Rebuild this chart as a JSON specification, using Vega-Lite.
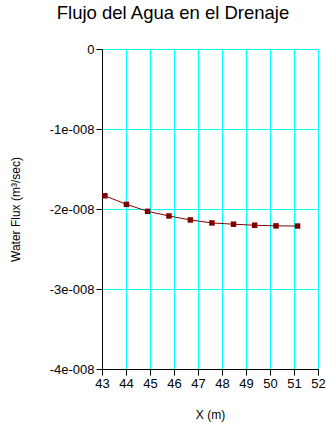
{
  "$schema": "https://vega.github.io/schema/vega-lite/v6.json",
  "autosize": "none",
  "padding": {"left": 102, "top": 49, "right": 9, "bottom": 59},
  "width": 216,
  "height": 320,
  "background": "white",
  "title": {
    "text": "Flujo del Agua en el Drenaje",
    "font": "Liberation Sans",
    "fontSize": 18.5,
    "fontWeight": "normal",
    "color": "black",
    "anchor": "middle",
    "frame": "group",
    "baseline": "alphabetic",
    "offset": 6,
    "dx": -37
  },
  "config": {
    "view": {"stroke": null},
    "axis": {
      "labelFont": "Liberation Sans",
      "titleFont": "Liberation Sans",
      "labelFontSize": 13,
      "titleFontSize": 12,
      "titleFontWeight": "normal",
      "labelColor": "black",
      "titleColor": "black",
      "domainColor": "black",
      "tickColor": "black",
      "gridColor": "#00FFFF",
      "gridOpacity": 1,
      "gridWidth": 1,
      "tickSize": 6,
      "labelPadding": 2
    }
  },
  "data": {
    "values": [
      {"x": 43.12, "flux": -1.835e-8},
      {"x": 44.02, "flux": -1.942e-8},
      {"x": 44.90, "flux": -2.029e-8},
      {"x": 45.79, "flux": -2.087e-8},
      {"x": 46.68, "flux": -2.137e-8},
      {"x": 47.58, "flux": -2.174e-8},
      {"x": 48.48, "flux": -2.19e-8},
      {"x": 49.36, "flux": -2.203e-8},
      {"x": 50.25, "flux": -2.211e-8},
      {"x": 51.15, "flux": -2.213e-8}
    ]
  },
  "encoding": {
    "x": {
      "field": "x",
      "type": "quantitative",
      "scale": {"domain": [43, 52], "nice": false, "zero": false},
      "axis": {
        "title": "X (m)",
        "values": [43, 44, 45, 46, 47, 48, 49, 50, 51, 52],
        "format": "d",
        "titleY": 45,
        "titleBaseline": "middle",
        "labelFlush": false
      }
    },
    "y": {
      "field": "flux",
      "type": "quantitative",
      "scale": {"domain": [-4e-8, 0], "nice": false},
      "axis": {
        "title": "Water Flux (m³/sec)",
        "values": [0, -1e-8, -2e-8, -3e-8, -4e-8],
        "labelExpr": "datum.value == 0 ? '0' : '-' + round(-datum.value * 1e8) + 'e-008'",
        "titleX": -87,
        "titleY": 160,
        "titleAngle": -90,
        "titleAlign": "center",
        "titleBaseline": "middle",
        "labelFlush": false
      }
    }
  },
  "layer": [
    {"mark": {"type": "line", "color": "#800000", "strokeWidth": 1}},
    {"mark": {"type": "point", "shape": "square", "filled": true, "color": "#800000", "opacity": 1, "size": 30}}
  ]
}
